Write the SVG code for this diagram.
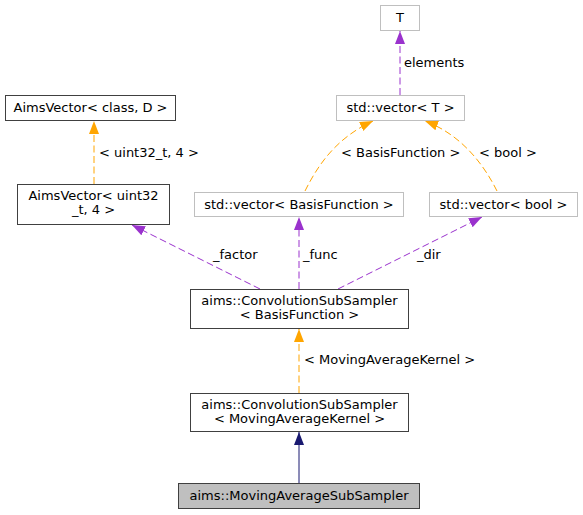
<svg xmlns="http://www.w3.org/2000/svg" width="583" height="515" viewBox="0 0 583 515">
<style>
text{font-family:"DejaVu Sans","Liberation Sans",sans-serif;font-size:13px;fill:#000}
.c{text-anchor:middle}
.doc{fill:#fff;stroke:#404040;stroke-width:1}
.und{fill:#fff;stroke:#bfbfbf;stroke-width:1}
.hl{fill:#bfbfbf;stroke:#404040;stroke-width:1}
.e{fill:none;stroke-width:1}
.p{stroke:#9a32cd;stroke-dasharray:7,3.5}
.o{stroke:#ffa500;stroke-dasharray:7,3.5}
.n{stroke:#191970}
</style>
<defs>
<marker id="ap" markerUnits="userSpaceOnUse" markerWidth="14" markerHeight="11" refX="13" refY="5" orient="auto"><path d="M0,0 L13,5 L0,10 z" fill="#9a32cd"/></marker>
<marker id="ao" markerUnits="userSpaceOnUse" markerWidth="14" markerHeight="11" refX="13" refY="5" orient="auto"><path d="M0,0 L13,5 L0,10 z" fill="#ffa500"/></marker>
<marker id="an" markerUnits="userSpaceOnUse" markerWidth="14" markerHeight="11" refX="13" refY="5" orient="auto"><path d="M0,0 L13,5 L0,10 z" fill="#191970"/></marker>
</defs>
<rect width="583" height="515" fill="#fff"/>
<g id="edges">
<path class="e p" d="M400,95 L400,31" marker-end="url(#ap)"/>
<text x="404" y="67">elements</text>
<path class="e o" d="M94,184 L94,121" marker-end="url(#ao)"/>
<text x="99" y="157">&lt; uint32_t, 4 &gt;</text>
<path class="e o" d="M305,191 C318,165 336,138 373,121" marker-end="url(#ao)"/>
<text x="341" y="157">&lt; BasisFunction &gt;</text>
<path class="e o" d="M497,191 C484,165 462,135 425,121" marker-end="url(#ao)"/>
<text x="479" y="157">&lt; bool &gt;</text>
<path class="e p" d="M260,289 L132,225" marker-end="url(#ap)"/>
<text x="213" y="259">_factor</text>
<path class="e p" d="M299,289 L299,217" marker-end="url(#ap)"/>
<text x="303" y="259">_func</text>
<path class="e p" d="M338,289 L482,217" marker-end="url(#ap)"/>
<text x="417" y="259">_dir</text>
<path class="e o" d="M299,393 L299,329" marker-end="url(#ao)"/>
<text x="304" y="364">&lt; MovingAverageKernel &gt;</text>
<path class="e n" d="M299,483 L299,432" marker-end="url(#an)"/>
</g>
<g id="node_T">
<rect class="und" x="380.5" y="5.5" width="39" height="25"/>
<text class="c" x="400" y="22">T</text>
</g>
<g id="node_vectorT">
<rect class="und" x="336.5" y="95.5" width="128" height="25"/>
<text class="c" x="400.5" y="112">std::vector&lt; T &gt;</text>
</g>
<g id="node_AimsVectorClassD">
<rect class="doc" x="5.5" y="95.5" width="170" height="25"/>
<text class="c" x="90.5" y="112">AimsVector&lt; class, D &gt;</text>
</g>
<g id="node_AimsVectorUint">
<rect class="doc" x="17.5" y="184.5" width="152" height="40"/>
<text class="c" x="93.5" y="200">AimsVector&lt; uint32</text>
<text class="c" x="93.5" y="214">_t, 4 &gt;</text>
</g>
<g id="node_vectorBF">
<rect class="und" x="194.5" y="192.5" width="209" height="24"/>
<text class="c" x="299" y="209">std::vector&lt; BasisFunction &gt;</text>
</g>
<g id="node_vectorBool">
<rect class="und" x="429.5" y="192.5" width="148" height="24"/>
<text class="c" x="503.5" y="209">std::vector&lt; bool &gt;</text>
</g>
<g id="node_ConvBF">
<rect class="doc" x="190.5" y="289.5" width="218" height="39"/>
<text class="c" x="299.5" y="305">aims::ConvolutionSubSampler</text>
<text class="c" x="299.5" y="319">&lt; BasisFunction &gt;</text>
</g>
<g id="node_ConvMAK">
<rect class="doc" x="190.5" y="393.5" width="218" height="38"/>
<text class="c" x="299.5" y="409">aims::ConvolutionSubSampler</text>
<text class="c" x="299.5" y="423">&lt; MovingAverageKernel &gt;</text>
</g>
<g id="node_MASS">
<rect class="hl" x="178.5" y="483.5" width="241" height="25"/>
<text class="c" x="299" y="500">aims::MovingAverageSubSampler</text>
</g>
</svg>
